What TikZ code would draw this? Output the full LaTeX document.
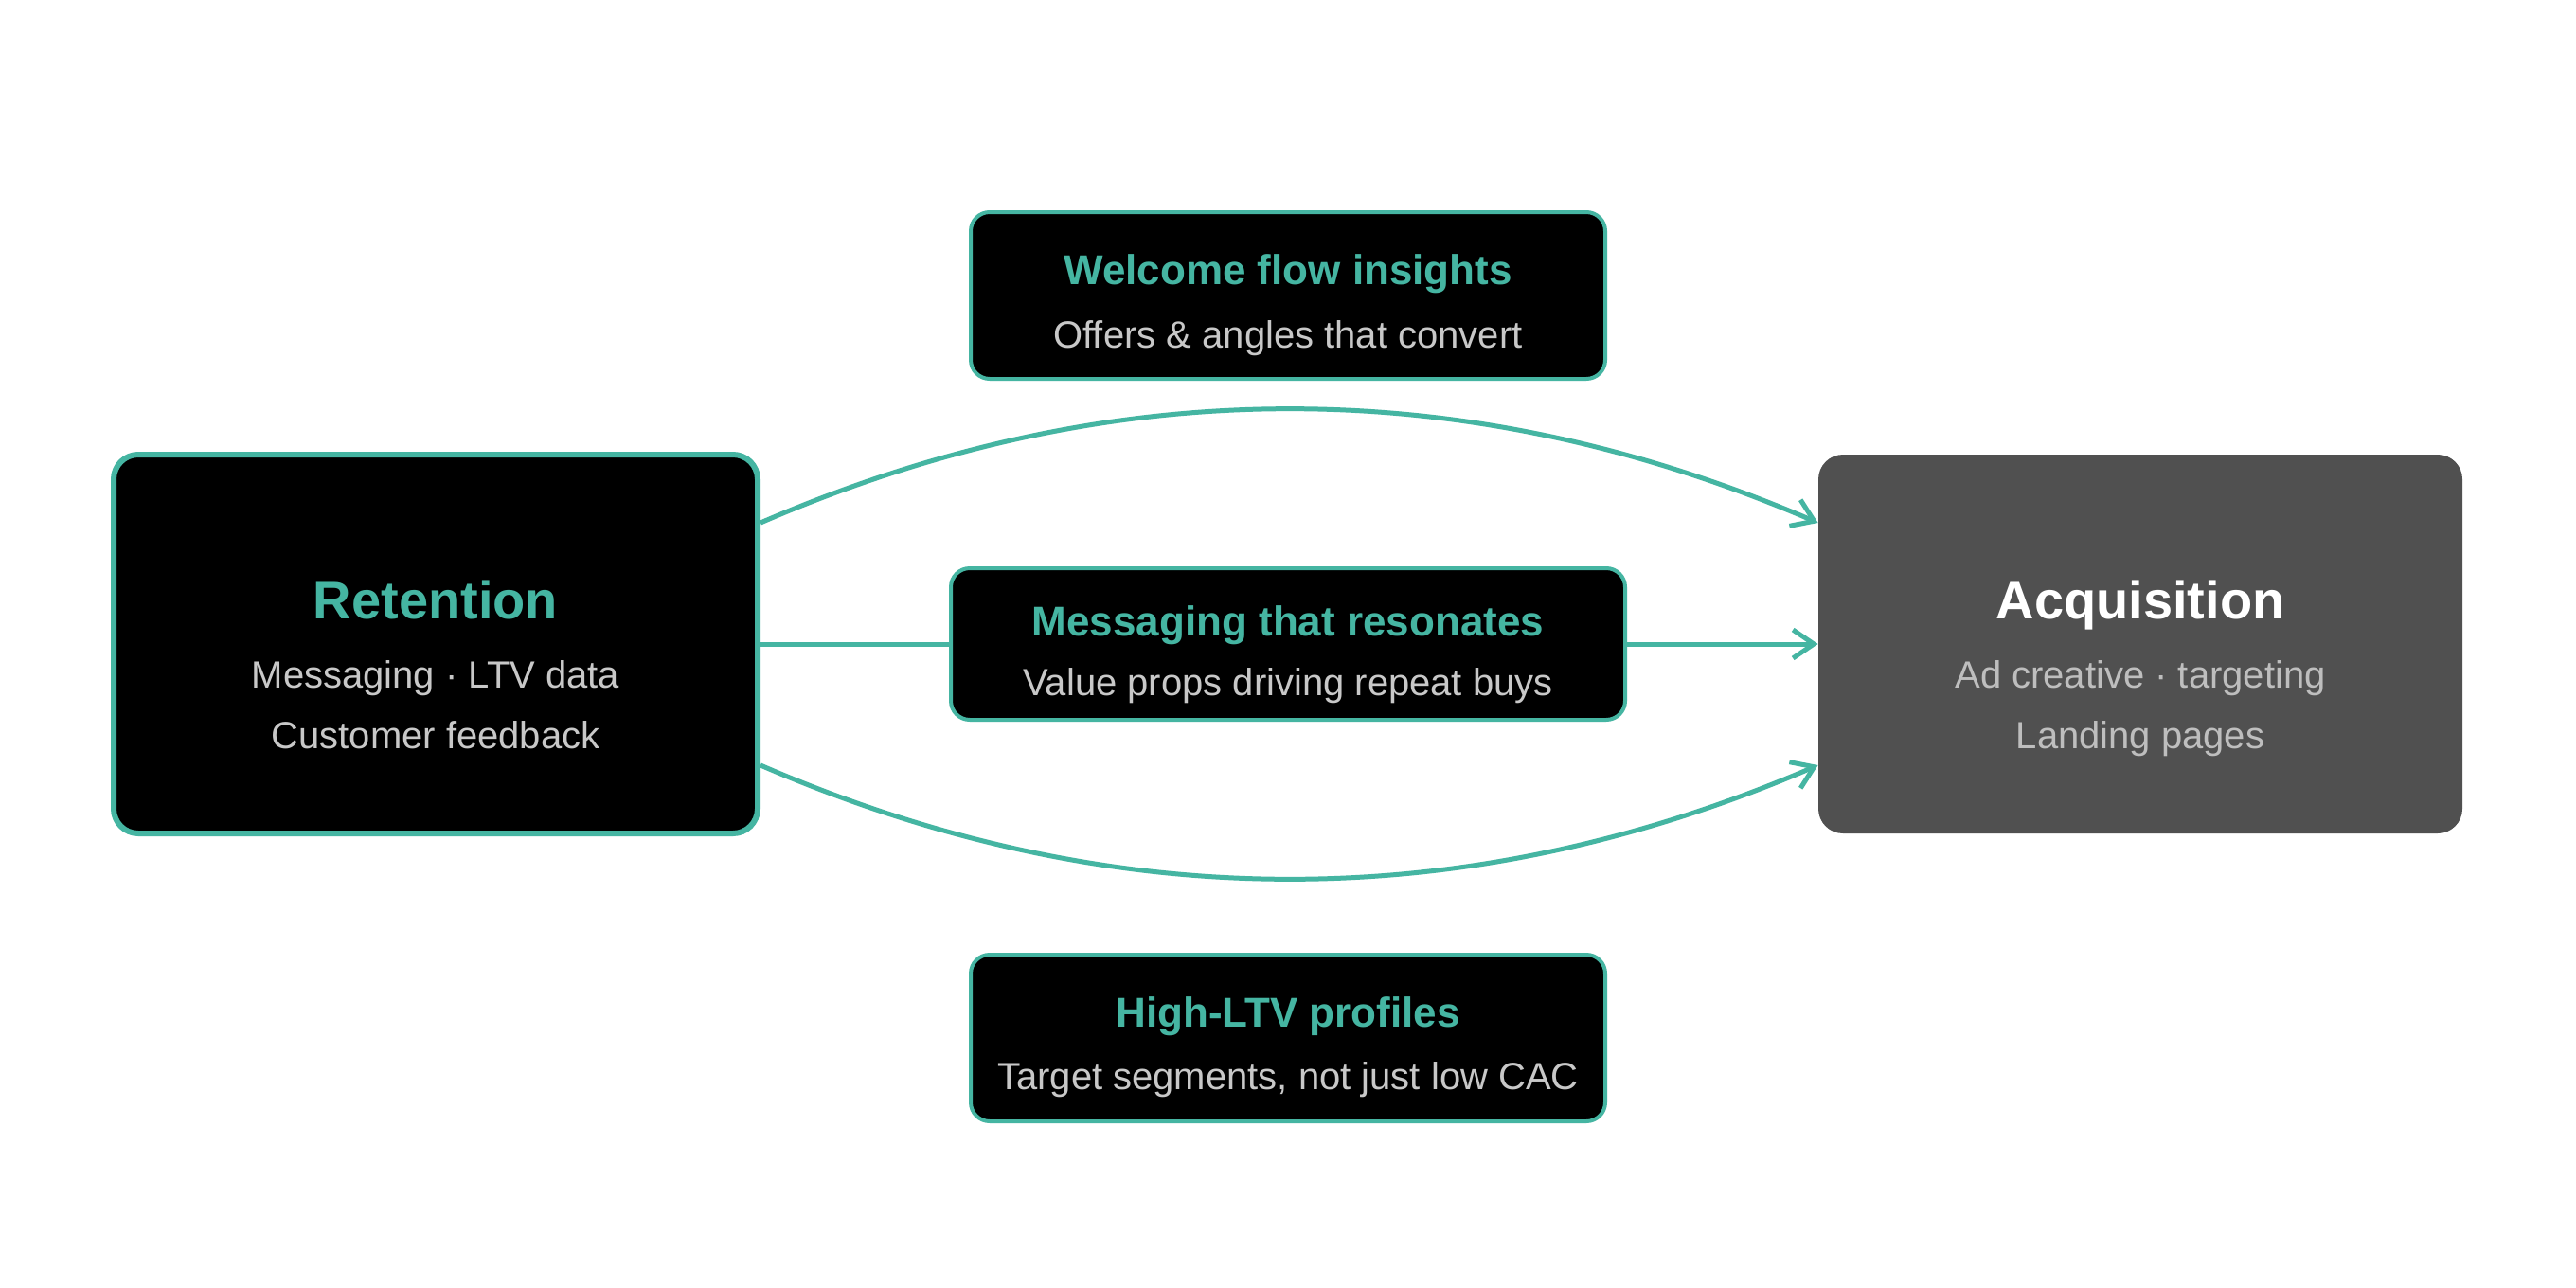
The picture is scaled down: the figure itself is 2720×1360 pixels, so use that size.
\documentclass[tikz,border=0pt]{standalone}
\usepackage{fontspec}
\setmainfont{Liberation Sans}
\usetikzlibrary{arrows.meta}
\definecolor{teal1}{HTML}{45B5A2}
\definecolor{subgray}{HTML}{C8C8C8}
\definecolor{acqfill}{HTML}{505050}
\definecolor{acqsub}{HTML}{BEBEBE}
\tikzset{
  bigbox/.style={rectangle, rounded corners=13pt, minimum width=340pt, minimum height=200pt, inner sep=0pt},
  smallbox/.style={rectangle, rounded corners=10pt, fill=black, draw=teal1, line width=2pt, inner sep=0pt},
  bigtitle/.style={anchor=base, font=\fontsize{28}{34}\selectfont\bfseries, inner sep=0pt},
  bigsub/.style={anchor=base, font=\fontsize{20}{24}\selectfont, inner sep=0pt},
  smalltitle/.style={anchor=base, font=\fontsize{22}{26}\selectfont\bfseries, text=teal1, inner sep=0pt},
  smallsub/.style={anchor=base, font=\fontsize{20}{24}\selectfont, text=subgray, inner sep=0pt},
  link/.style={draw=teal1, line width=2.5pt},
  tip/.style={-{Straight Barb[length=11pt,width=15pt]}}
}
\begin{document}
\begin{tikzpicture}[x=0.5pt,y=-0.5pt]
\fill[white] (0,0) rectangle (2720,1360);
\useasboundingbox (0,0) rectangle (2720,1360);

% main boxes
\node[bigbox, fill=black, draw=teal1, line width=3pt] (ret) at (460,680) {};
\node[bigbox, fill=acqfill] (acq) at (2260,680) {};

\node[bigtitle, text=teal1] (rett) at (460,653) {Retention};
\node[bigsub, text=subgray] (rets1) at (460,726) {Messaging · LTV data};
\node[bigsub, text=subgray] (rets2) at (460,790) {Customer feedback};

\node[bigtitle, text=white] (acqt) at (2260,653) {Acquisition};
\node[bigsub, text=acqsub] (acqs1) at (2260,726) {Ad creative · targeting};
\node[bigsub, text=acqsub] (acqs2) at (2260,790) {Landing pages};

% connectors
\draw[link, tip] ([yshift=64pt]ret.east) .. controls (1173.3,392) and (1546.7,392) .. ([yshift=64pt]acq.west);
\draw[link, tip] ([yshift=-64pt]ret.east) .. controls (1173.3,968) and (1546.7,968) .. ([yshift=-64pt]acq.west);

% small boxes
\node[smallbox, minimum width=335pt, minimum height=88pt] (wel) at (1360,312) {};
\node[smalltitle] (welt) at (1360,300) {Welcome flow insights};
\node[smallsub] (wels) at (1360,367) {Offers \& angles that convert};

\node[smallbox, minimum width=356pt, minimum height=80pt] (msg) at (1360,680) {};
\node[smalltitle] (msgt) at (1360,671) {Messaging that resonates};
\node[smallsub] (msgs) at (1360,734) {Value props driving repeat buys};

\node[smallbox, minimum width=335pt, minimum height=88pt] (hi) at (1360,1096) {};
\node[smalltitle] (hit) at (1360,1084) {High-LTV profiles};
\node[smallsub] (his) at (1360,1150) {Target segments, not just low CAC};

\draw[link] (ret.east) -- (msg.west);
\draw[link, tip] (msg.east) -- (acq.west);
\end{tikzpicture}
\end{document}
